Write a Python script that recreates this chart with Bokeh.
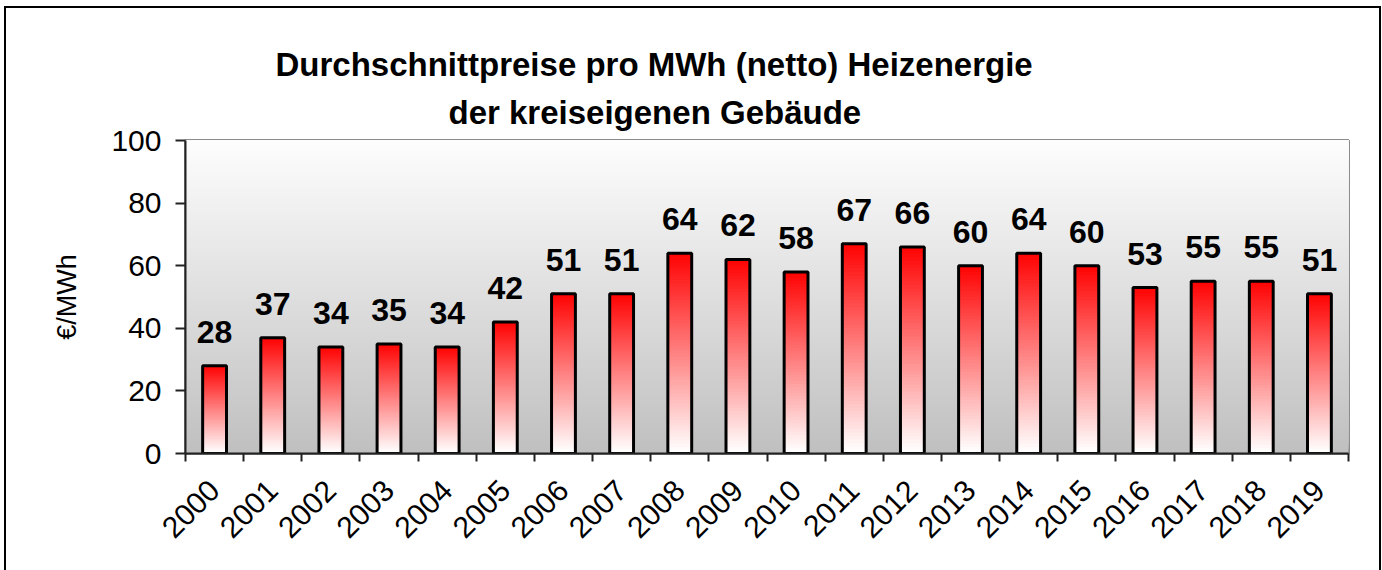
import numpy as np
from bokeh.plotting import figure
from bokeh.models import ColumnDataSource, FixedTicker, LabelSet, Title, Range1d
from bokeh.core.properties import value
from bokeh.embed import file_html
from bokeh.resources import INLINE

# ---- data ----
years = ["2000", "2001", "2002", "2003", "2004", "2005", "2006", "2007", "2008", "2009",
         "2010", "2011", "2012", "2013", "2014", "2015", "2016", "2017", "2018", "2019"]
prices = [28, 37, 34, 35, 34, 42, 51, 51, 64, 62, 58, 67, 66, 60, 64, 60, 53, 55, 55, 51]
y_ticks = [0, 20, 40, 60, 80, 100]
title_lines = ["Durchschnittpreise pro MWh (netto) Heizenergie", "der kreiseigenen Gebäude"]
y_label = "€/MWh"

FONT = "Liberation Sans"
W, H = 1377, 564
n = len(years)

p = figure(width=W, height=H, output_backend="svg", toolbar_location=None,
           title_location=None,
           x_range=Range1d(-0.5, n - 0.5), y_range=Range1d(0, 100),
           min_border_left=179, min_border_right=35, min_border_top=132, min_border_bottom=119)
p.border_fill_color = "white"
p.outline_line_color = "#8c8c8c"
p.outline_line_width = 3
p.grid.grid_line_color = None
p.styles = {"border": "2px solid black", "border-bottom": "none",
            "margin-left": "4px", "margin-top": "6px"}

# ---- background gradient (white at top -> grey at bottom) ----
n_bg = 160
lv = np.linspace(0, 100, n_bg, endpoint=False)
g = (192 + (254 - 192) * lv / 100).astype(int)
bg = ColumnDataSource(dict(bottom=lv, top=np.full(n_bg, 100.0),
                           color=["#%02x%02x%02x" % (c, c, c) for c in g]))
p.quad(left=-0.5, right=n - 0.5, bottom="bottom", top="top", fill_color="color",
       line_color=None, source=bg)

# ---- bars with red (top) -> white (bottom) gradient ----
n_g = 60
bx, bb, bt, bc = [], [], [], []
for i, v in enumerate(prices):
    for k in range(n_g):
        f = k / n_g
        c = int(round(255 * (1 - f)))
        bx.append(i); bb.append(v * f); bt.append(v)
        bc.append("#ff%02x%02x" % (c, c))
BAR_W = 0.41
gsrc = ColumnDataSource(dict(x=bx, bottom=bb, top=bt, color=bc))
p.vbar(x="x", bottom="bottom", top="top", width=BAR_W, fill_color="color",
       line_color=None, source=gsrc)

src = ColumnDataSource(dict(x=list(range(n)), top=prices, label=[str(v) for v in prices]))
p.vbar(x="x", top="top", width=BAR_W, fill_color=None, line_color="black",
       line_width=3, source=src)

labels = LabelSet(x="x", y="top", text="label", source=src, y_offset=23,
                  text_align="center", text_baseline="alphabetic",
                  text_font=value(FONT), text_font_size="32px", text_font_style="bold",
                  text_color="black")
p.add_layout(labels)

# ---- axes ----
p.xaxis.ticker = FixedTicker(ticks=list(range(n)),
                             minor_ticks=[i - 0.5 for i in range(n + 1)])
p.xaxis.major_label_overrides = {i: y for i, y in enumerate(years)}
p.xaxis.major_label_orientation = float(np.pi / 4)
p.xaxis.major_tick_line_color = None
p.xaxis.minor_tick_line_color = "#222222"
p.xaxis.minor_tick_line_width = 2
p.xaxis.minor_tick_in = 0
p.xaxis.minor_tick_out = 8
p.xaxis.major_label_standoff = 24

p.yaxis.ticker = FixedTicker(ticks=y_ticks)
p.yaxis.major_tick_in = 0
p.yaxis.major_tick_out = 10
p.yaxis.major_tick_line_width = 2
p.yaxis.major_tick_line_color = "#222222"
p.yaxis.minor_tick_line_color = None
p.yaxis.major_label_standoff = 14
p.yaxis.axis_label = y_label
p.yaxis.axis_label_standoff = 26
p.yaxis.axis_label_text_font_style = "normal"

for ax in (p.xaxis, p.yaxis):
    ax.axis_line_color = "#222222"
    ax.axis_line_width = 2
    ax.major_label_text_font = FONT
    ax.major_label_text_font_size = "30px"
    ax.major_label_text_color = "black"
    ax.axis_label_text_font = FONT
    ax.axis_label_text_font_size = "27px"
    ax.axis_label_text_color = "black"

# ---- title (two centred lines; first added sits nearest the frame) ----
# left-aligned titles shifted so each line is centred near x = 654 on the page
for txt, so, off in zip(reversed(title_lines), [19, 0], [263, 90]):
    p.add_layout(Title(text=txt, align="left", offset=off,
                       standoff=so, text_font=FONT, text_font_size="33px",
                       text_font_style="bold", text_color="black"), "above")

open("out.html", "w").write(file_html(p, INLINE))
